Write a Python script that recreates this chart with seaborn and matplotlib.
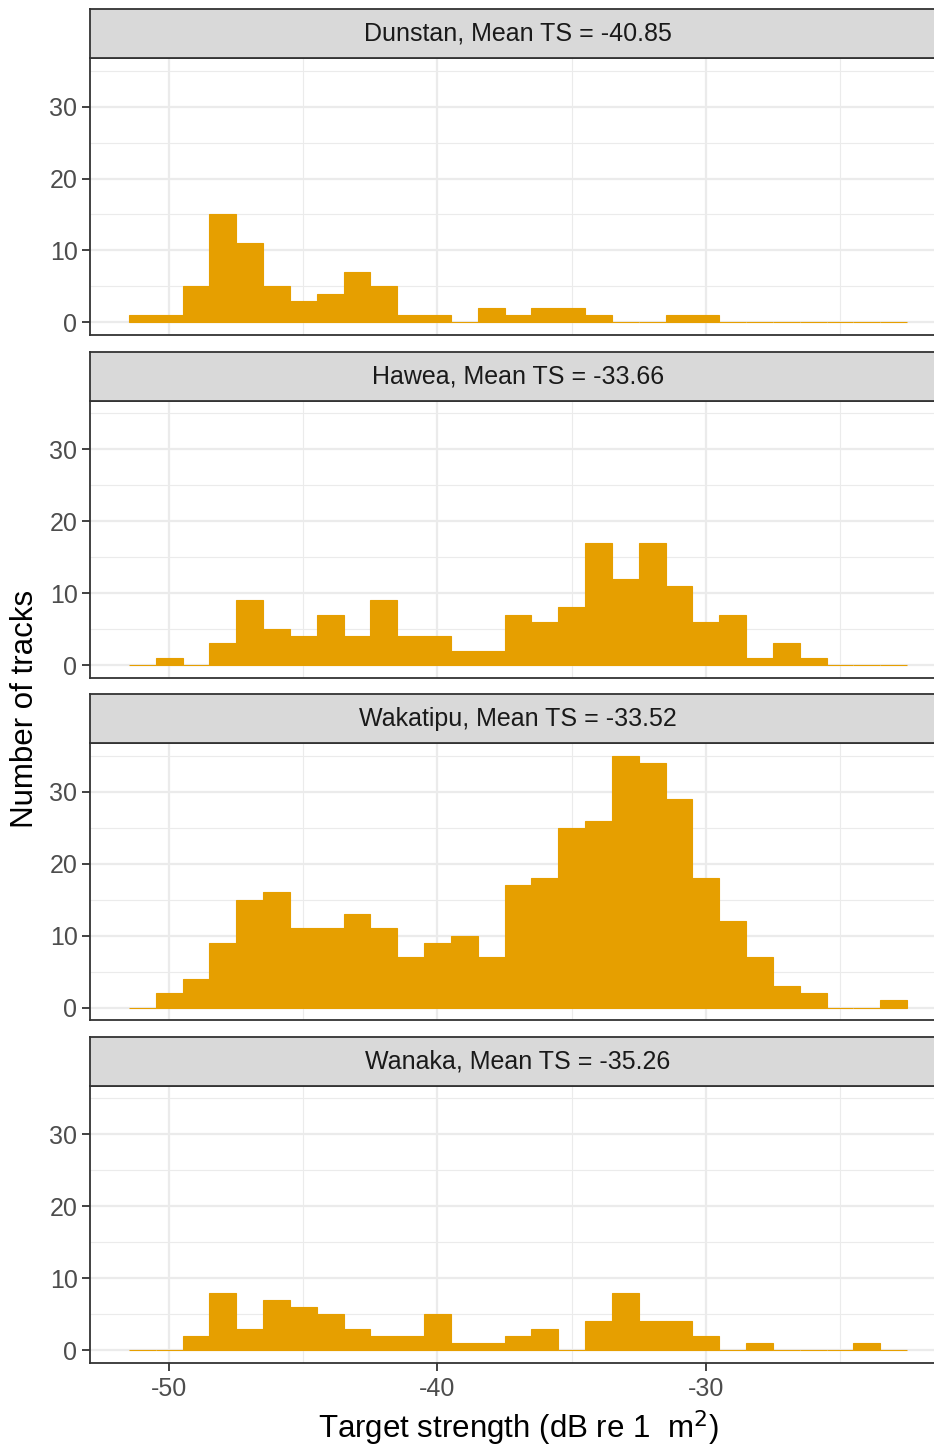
import numpy as np
import pandas as pd
import matplotlib
matplotlib.use("Agg")
import matplotlib.pyplot as plt
import seaborn as sns

# ---- data ----
bin_centers = list(range(-51, -22))  # 1-dB bins, centres -51 ... -23
lakes = ["Dunstan", "Hawea", "Wakatipu", "Wanaka"]
mean_ts = [-40.85, -33.66, -33.52, -35.26]
dunstan = [1, 1, 5, 15, 11, 5, 3, 4, 7, 5, 1, 1, 0, 2, 1, 2, 2, 1, 0, 0, 1, 1, 0, 0, 0, 0, 0, 0, 0]
hawea = [0, 1, 0, 3, 9, 5, 4, 7, 4, 9, 4, 4, 2, 2, 7, 6, 8, 17, 12, 17, 11, 6, 7, 1, 3, 1, 0, 0, 0]
wakatipu = [0, 2, 4, 9, 15, 16, 11, 11, 13, 11, 7, 9, 10, 7, 17, 18, 25, 26, 35, 34, 29, 18, 12, 7, 3, 2, 0, 0, 1]
wanaka = [0, 0, 2, 8, 3, 7, 6, 5, 3, 2, 2, 5, 1, 1, 2, 3, 0, 4, 8, 4, 4, 2, 0, 1, 0, 0, 0, 1, 0]
counts = [dunstan, hawea, wakatipu, wanaka]
x_ticks = [-50, -40, -30]
y_ticks = [0, 10, 20, 30]

frames = []
for lake, c in zip(lakes, counts):
    frames.append(pd.DataFrame({"lake": lake, "ts": bin_centers, "n": c}))
df = pd.concat(frames, ignore_index=True)

# ---- style ----
sns.set_theme(style="white")
plt.rcParams['font.family'] = ['Liberation Sans', 'DejaVu Sans']

W, H = 934, 1445
DPI = 100
fig = plt.figure(figsize=(W / DPI, H / DPI), dpi=DPI)

BAR = "#E69F00"
GRID = "#EBEBEB"
BORDER = "#333333"
STRIP = "#D9D9D9"
TICKC = "#4D4D4D"

left_px, right_px = 90, 946
step = 342.6
fs_tick = 18
fs_title = 22.5

for k, lake in enumerate(lakes):
    strip_top = 9 + step * k
    strip_bot = 58 + step * k
    pan_bot = 335 + step * k
    # panel axes
    ax = fig.add_axes([left_px / W, 1 - pan_bot / H, (right_px - left_px) / W,
                       (pan_bot - strip_bot) / H])
    sub = df[df["lake"] == lake]
    sns.histplot(data=sub, x="ts", weights="n", binwidth=1, binrange=(-51.5, -22.5),
                 color=BAR, alpha=1, edgecolor=BAR, linewidth=0.8, ax=ax, zorder=3)
    ax.set_xlim(-52.95, -21.05)
    ax.set_ylim(-1.75, 36.75)
    ax.set_xticks(x_ticks)
    ax.set_xticks([-45, -35, -25], minor=True)
    ax.set_yticks(y_ticks)
    ax.set_yticks([5, 15, 25, 35], minor=True)
    ax.grid(True, which="major", color=GRID, linewidth=1.6, zorder=0)
    ax.grid(True, which="minor", color=GRID, linewidth=0.8, zorder=0)
    ax.set_axisbelow(True)
    ax.set_xlabel("")
    ax.set_ylabel("")
    for s in ax.spines.values():
        s.set_color(BORDER)
        s.set_linewidth(1.3)
    ax.tick_params(axis="y", which="major", left=True, length=6, width=1.3, color=BORDER,
                   labelsize=fs_tick, labelcolor=TICKC, pad=3)
    ax.tick_params(axis="y", which="minor", left=False)
    if k == len(lakes) - 1:
        ax.tick_params(axis="x", which="major", bottom=True, length=6, width=1.3,
                       color=BORDER, labelsize=fs_tick, labelcolor=TICKC, pad=4)
        ax.set_xticklabels([str(v) for v in x_ticks])
    else:
        ax.tick_params(axis="x", which="major", bottom=False, labelbottom=False)
    ax.tick_params(axis="x", which="minor", bottom=False)

    # strip
    sax = fig.add_axes([left_px / W, 1 - strip_bot / H, (right_px - left_px) / W,
                        (strip_bot - strip_top) / H])
    sax.set_facecolor(STRIP)
    sax.set_xticks([])
    sax.set_yticks([])
    for s in sax.spines.values():
        s.set_color(BORDER)
        s.set_linewidth(1.3)
    sax.text(0.5, 0.5, f"{lake}, Mean TS = {mean_ts[k]:.2f}", ha="center", va="center",
             fontsize=fs_tick, color="#1A1A1A", transform=sax.transAxes)

fig.text(518 / W, 1 - 1428 / H, "Target strength (dB re 1  m$^2$)", ha="center",
         va="center", fontsize=fs_title, color="black")
fig.text(25 / W, 1 - 709 / H, "Number of tracks", ha="center", va="center",
         rotation=90, fontsize=fs_title, color="black")

fig.savefig("out.png", dpi=DPI)
